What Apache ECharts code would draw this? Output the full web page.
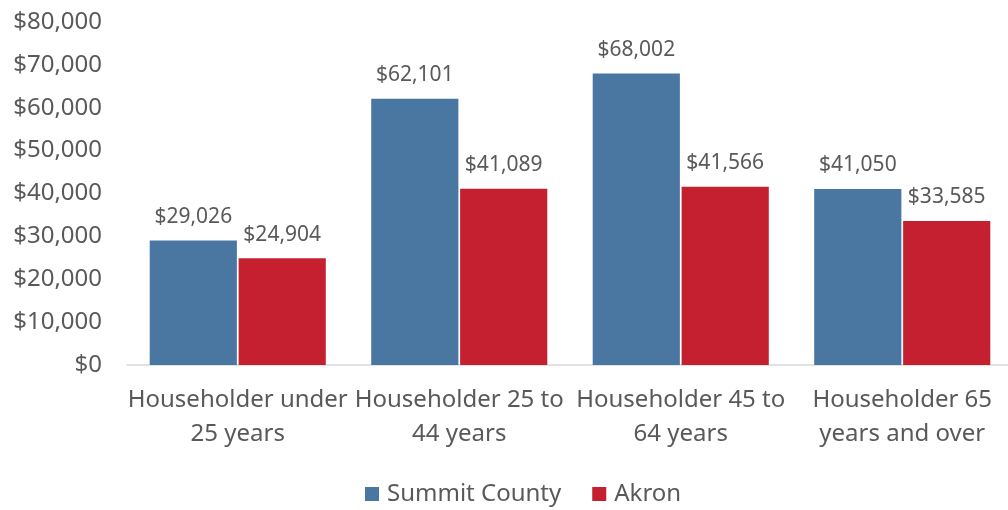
<!DOCTYPE html>
<html>
<head>
<meta charset="utf-8">
<script src="https://cdn.jsdelivr.net/npm/echarts@6/dist/echarts.min.js"></script>
<style>
  html, body { margin: 0; padding: 0; background: #fff; }
  #chart { width: 1008px; height: 510px; }
</style>
</head>
<body>
<div id="chart"></div>
<script>
// median household income by age of householder
const categories = [
  "Householder under\n25 years",
  "Householder 25 to\n44 years",
  "Householder 45 to\n64 years",
  "Householder 65\nyears and over"
];
const seriesNames = ["Summit County", "Akron"];
const summitCounty = [29026, 62101, 68002, 41050];
const akron = [24904, 41089, 41566, 33585];
const yTicks = { min: 0, max: 80000, interval: 10000 };

const textColor = "#595959";
const font = "Noto Sans";
const money = (v) => "$" + Number(v).toLocaleString("en-US");

const chart = echarts.init(document.getElementById("chart"));

const barLabel = {
  show: true,
  position: "top",
  distance: 13,
  color: textColor,
  fontFamily: font,
  fontSize: 21,
  formatter: (p) => money(p.value),
};

chart.setOption({
  animation: false,
  textStyle: { fontFamily: font },
  grid: {
    left: 127,
    right: -5,
    top: 22,
    bottom: 145,
    containLabel: false,
    outerBoundsMode: "none",
  },
  legend: {
    data: seriesNames,
    left: 365,
    top: 480,
    padding: 0,
    icon: "rect",
    itemWidth: 14,
    itemHeight: 14,
    itemGap: 31,
    textStyle: {
      color: textColor,
      fontFamily: font,
      fontSize: 24,
      lineHeight: 28,
      padding: [0, 0, 0, 3],
    },
  },
  xAxis: {
    type: "category",
    data: categories,
    axisLine: { lineStyle: { color: "#d9d9d9", width: 1.5 } },
    axisTick: { show: false },
    axisLabel: {
      interval: 0,
      margin: 18,
      color: textColor,
      fontFamily: font,
      fontSize: 24,
      lineHeight: 34,
    },
  },
  yAxis: {
    type: "value",
    min: yTicks.min,
    max: yTicks.max,
    interval: yTicks.interval,
    axisLine: { show: false },
    axisTick: { show: false },
    splitLine: { show: false },
    axisLabel: {
      margin: 25,
      color: textColor,
      fontFamily: font,
      fontSize: 24,
      formatter: money,
    },
  },
  series: [
    {
      name: seriesNames[0],
      type: "bar",
      data: summitCounty,
      barGap: "2%",
      barCategoryGap: "20.5%",
      itemStyle: { color: "#4a76a2" },
      label: barLabel,
    },
    {
      name: seriesNames[1],
      type: "bar",
      data: akron,
      itemStyle: { color: "#c4202f" },
      label: barLabel,
    },
  ],
});
</script>
</body>
</html>
